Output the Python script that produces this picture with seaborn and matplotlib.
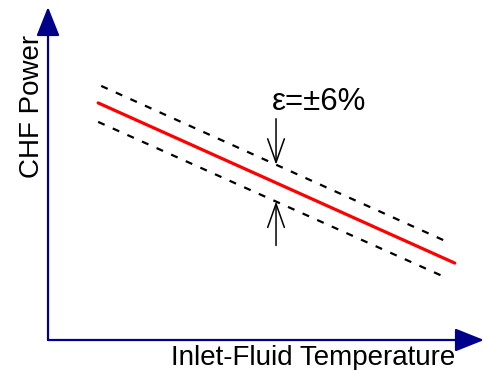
import matplotlib
matplotlib.use("Agg")
import matplotlib.pyplot as plt
import seaborn as sns
import numpy as np
import pandas as pd

sns.set_theme(style="white")
plt.rcParams['font.family'] = ['Liberation Sans', 'DejaVu Sans']
plt.rcParams['text.color'] = 'black'

# Data (arbitrary units)
temperature = [1.15, 9.33]
chf_nominal = [7.12, 2.31]
upper_temp = [1.22, 9.22]
chf_upper = [7.63, 2.91]
lower_temp = [1.15, 9.15]
chf_lower = [6.55, 1.86]
band_label = "ε=±6%"
x_label = "Inlet-Fluid Temperature"
y_label = "CHF Power"
arrow_x = 5.23

fig = plt.figure(figsize=(4.84, 3.70), dpi=100)
W, H = 484, 370
ax = fig.add_axes([48 / W, 30 / H, (484 - 48) / W, (340 - 7) / H])
ax.set_xlim(0, 10)
ax.set_ylim(0, 10)
ax.axis('off')

df = pd.DataFrame({"t": temperature, "p": chf_nominal})
sns.lineplot(data=df, x="t", y="p", ax=ax, color="#ff0000", lw=2.3)
sns.lineplot(x=upper_temp, y=chf_upper, ax=ax, color="black", lw=1.6,
             linestyle=(0, (3.2, 4.0)))
sns.lineplot(x=lower_temp, y=chf_lower, ax=ax, color="black", lw=1.6,
             linestyle=(0, (3.2, 4.0)))

navy = "#00008b"
# axis arrows
axp = dict(arrowstyle='-|>,head_length=0.9,head_width=0.36',
           color=navy, lw=1.6, mutation_scale=20, shrinkA=0, shrinkB=0)
ax.annotate("", xy=(1.0, 0), xytext=(0, 0), xycoords='axes fraction',
            arrowprops=axp, annotation_clip=False)
ax.annotate("", xy=(0, 1.0), xytext=(0, 0), xycoords='axes fraction',
            arrowprops=axp, annotation_clip=False)

# band arrows, tips on the dashed band lines
up_tip = float(np.interp(arrow_x, upper_temp, chf_upper))
lo_tip = float(np.interp(arrow_x, lower_temp, chf_lower))
ap = dict(arrowstyle='->,head_length=0.85,head_width=0.3', color='black',
          lw=1.1, mutation_scale=20, shrinkA=0, shrinkB=0)
ax.annotate("", xy=(arrow_x, up_tip), xytext=(arrow_x, up_tip + 1.38), arrowprops=ap)
ax.annotate("", xy=(arrow_x, lo_tip), xytext=(arrow_x, lo_tip - 1.32), arrowprops=ap)

ax.text(5.14, 6.91, band_label, fontsize=22.5, ha='left', va='baseline', color='black')

fig.text(455 / W, 1 - 365 / H, x_label, fontsize=20, ha='right', va='baseline',
         color='black')
fig.text(39 / W, 1 - 106 / H, y_label, fontsize=20, rotation=90,
         ha='center', va='baseline', rotation_mode='anchor', color='black')

fig.savefig("out.png", dpi=100)
